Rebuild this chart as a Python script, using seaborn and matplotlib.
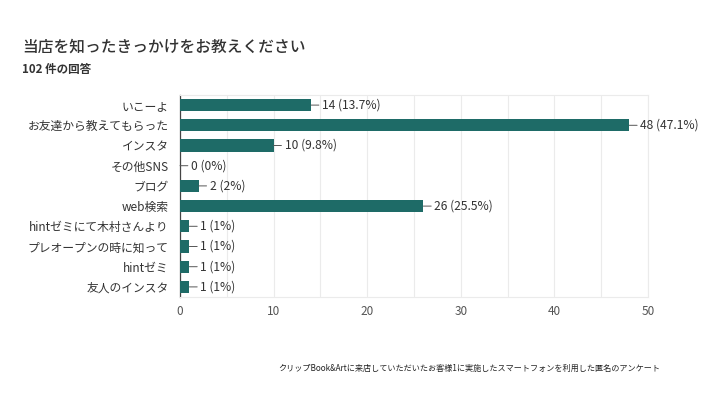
import matplotlib
matplotlib.use("Agg")
import matplotlib.pyplot as plt
import seaborn as sns
import pandas as pd

categories = ["いこーよ", "お友達から教えてもらった", "インスタ", "その他SNS", "ブログ",
              "web検索", "hintゼミにて木村さんより", "プレオープンの時に知って", "hintゼミ", "友人のインスタ"]
counts = [14, 48, 10, 0, 2, 26, 1, 1, 1, 1]
labels = ["14 (13.7%)", "48 (47.1%)", "10 (9.8%)", "0 (0%)", "2 (2%)", "26 (25.5%)",
          "1 (1%)", "1 (1%)", "1 (1%)", "1 (1%)"]
xticks = [0, 10, 20, 30, 40, 50]

title = "当店を知ったきっかけをお教えください"
subtitle = "102 件の回答"
caption = "クリップBook&Artに来店していただいたお客様1に実施したスマートフォンを利用した匿名のアンケート"

sns.set_theme(style="white")
plt.rcParams['font.family'] = ['Noto Sans CJK JP', 'DejaVu Sans']

df = pd.DataFrame({"cat": categories, "n": counts})

fig = plt.figure(figsize=(7.2, 4.05), dpi=100)
ax = fig.add_axes([180/720, 1 - 297/405, (648-180)/720, (297-95)/405])

sns.barplot(data=df, y="cat", x="n", orient="h", color="#1e6b67", width=0.6,
            saturation=1, ax=ax, zorder=3, linewidth=0, edgecolor="none")

ax.set_xlim(0, 50)
ax.set_ylim(9.5, -0.5)
ax.set_xticks(xticks)
ax.set_xticks(range(0, 51, 5), minor=True)
ax.grid(True, axis="x", which="both", color="#ebebeb", lw=0.8, zorder=0)
ax.set_xlabel("")
ax.set_ylabel("")
ax.tick_params(axis="x", which="both", labelsize=8.5, colors="#555555", length=0, pad=6,
               bottom=False)
ax.tick_params(axis="y", which="both", labelsize=8.5, colors="#333333", length=0, pad=8,
               left=False)
for s in ["top", "right", "bottom"]:
    ax.spines[s].set_color("#ebebeb")
    ax.spines[s].set_linewidth(0.8)
ax.spines["left"].set_color("#444444")
ax.spines["left"].set_linewidth(0.9)

for i, (v, lab) in enumerate(zip(counts, labels)):
    ax.annotate(lab, xy=(v, i), xytext=(8, 0), textcoords="offset points",
                va="center", ha="left", fontsize=8.7, color="#333333",
                arrowprops=dict(arrowstyle="-", color="#555555", lw=0.7,
                                shrinkA=0, shrinkB=0))

fig.text(22/720, 1 - 47/405, title, fontsize=11.3, color="#333333", va="center", ha="left",
         fontweight="medium")
fig.text(22/720, 1 - 70/405, subtitle, fontsize=8.3, color="#333333", va="center",
         ha="left", fontweight="bold")
fig.text(278/720, 1 - 368/405, caption, fontsize=5.85, color="#222222", va="center", ha="left")

fig.savefig("out.png", dpi=100)
